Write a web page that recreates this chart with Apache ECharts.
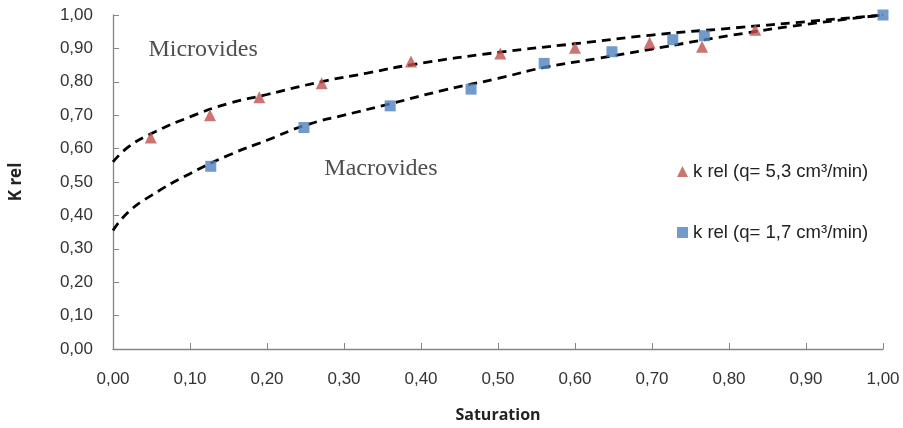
<!DOCTYPE html>
<html>
<head>
<meta charset="utf-8">
<script src="https://cdn.jsdelivr.net/npm/echarts@6/dist/echarts.min.js"></script>
<style>html,body{margin:0;padding:0;background:#fff;}#c{width:903px;height:428px;}</style>
</head>
<body>
<div id="c"></div>
<script>
// Data
const redName = 'k rel (q= 5,3 cm³/min)';
const blueName = 'k rel (q= 1,7 cm³/min)';
const redX = [0.049, 0.126, 0.190, 0.271, 0.387, 0.503, 0.600, 0.697, 0.765, 0.834];
const redY = [0.633, 0.700, 0.754, 0.796, 0.861, 0.885, 0.902, 0.917, 0.905, 0.956];
const blueX = [0.127, 0.248, 0.360, 0.465, 0.560, 0.648, 0.727, 0.768, 1.000];
const blueY = [0.547, 0.663, 0.728, 0.778, 0.855, 0.890, 0.926, 0.938, 1.000];
// Trend curves
const microX = [0, 0.02, 0.05, 0.10, 0.15, 0.20, 0.27, 0.33, 0.39, 0.50, 0.60, 0.70, 0.80, 0.90, 1.00];
const microY = [0.56, 0.605, 0.645, 0.695, 0.735, 0.762, 0.800, 0.826, 0.852, 0.888, 0.914, 0.940, 0.960, 0.980, 1.00];
const macroX = [0, 0.02, 0.05, 0.10, 0.15, 0.20, 0.25, 0.30, 0.36, 0.43, 0.50, 0.56, 0.63, 0.70, 0.80, 0.90, 1.00];
const macroY = [0.355, 0.41, 0.46, 0.525, 0.58, 0.625, 0.67, 0.70, 0.734, 0.775, 0.81, 0.843, 0.87, 0.898, 0.938, 0.972, 1.00];
const annotText = ['Microvides', 'Macrovides'];
const annotX = [0.117, 0.348];
const annotY = [0.896, 0.540];
const xTitle = 'Saturation';
const yTitle = 'K rel';

const zip = (a, b) => a.map((v, i) => [v, b[i]]);
const fmt = v => v.toFixed(2).replace('.', ',');

const chart = echarts.init(document.getElementById('c'), null, {renderer: 'canvas'});
const axisCol = '#868686';
const dashLine = {color: '#000', width: 2.8, type: [9, 6]};
const tickFont = {fontFamily: 'Liberation Sans Narrow, Liberation Sans', fontSize: 17, color: '#333'};
chart.setOption({
  animation: false,
  grid: {left: 113, right: 20, top: 15, bottom: 75, containLabel: false},
  xAxis: {
    type: 'value', min: 0, max: 1, interval: 0.1,
    name: xTitle, nameLocation: 'middle', nameGap: 58,
    nameTextStyle: {fontFamily: 'Open Sans', fontWeight: 'bold', fontSize: 16, color: '#222'},
    axisLine: {lineStyle: {color: axisCol, width: 1.3}},
    axisTick: {inside: true, length: 6, lineStyle: {color: axisCol}},
    splitLine: {show: false},
    axisLabel: Object.assign({formatter: fmt, margin: 22}, tickFont)
  },
  yAxis: {
    type: 'value', min: 0, max: 1, interval: 0.1,
    name: yTitle, nameLocation: 'middle', nameGap: 88, nameRotate: 90,
    nameTextStyle: {fontFamily: 'Open Sans', fontWeight: 'bold', fontSize: 17, color: '#222'},
    axisLine: {show: true, lineStyle: {color: axisCol, width: 1.3}},
    axisTick: {show: true, inside: true, length: 6, lineStyle: {color: axisCol}},
    splitLine: {show: false},
    axisLabel: Object.assign({formatter: fmt, margin: 20}, tickFont)
  },
  legend: {
    orient: 'vertical', left: 672, top: 157, itemGap: 42,
    itemWidth: 11, itemHeight: 11,
    data: [{name: redName, icon: 'triangle'}, {name: blueName, icon: 'rect'}],
    textStyle: {fontFamily: 'Liberation Sans', fontSize: 18.5, color: '#222'}
  },
  series: [
    {name: 'Microvides trend', type: 'line', data: zip(microX, microY), smooth: true, showSymbol: false, lineStyle: dashLine, z: 2},
    {name: 'Macrovides trend', type: 'line', data: zip(macroX, macroY), smooth: true, showSymbol: false, lineStyle: dashLine, z: 2},
    {name: redName, type: 'scatter', symbol: 'triangle', symbolSize: 12, itemStyle: {color: '#C0504D'}, data: zip(redX, redY), z: 3},
    {name: blueName, type: 'scatter', symbol: 'rect', symbolSize: 11, itemStyle: {color: '#4F81BD'}, data: zip(blueX, blueY), z: 3},
    {name: 'annot', type: 'scatter', symbolSize: 0, silent: true,
      data: annotText.map((t, i) => ({value: [annotX[i], annotY[i]], name: t})),
      label: {show: true, position: 'inside', formatter: p => p.name, fontFamily: 'Liberation Serif', fontSize: 24, color: '#222'}}
  ]
});
</script>
</body>
</html>
